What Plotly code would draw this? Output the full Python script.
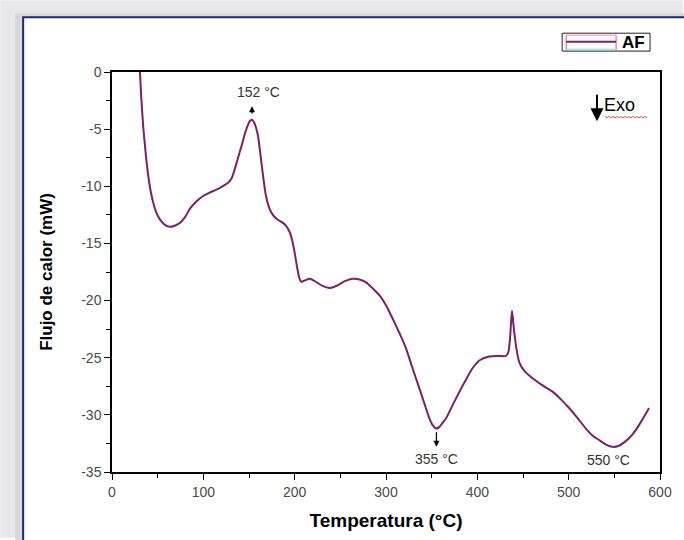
import plotly.graph_objects as go

# DSC trace of sample AF: temperature (°C) vs heat flow (mW)
temperatura = [
    30.6, 32.0, 34.2, 37.0, 39.7, 42.5, 45.0, 48.5, 52.5, 57.5, 63.4, 68.5,
    74.3, 80.0, 85.0, 92.0, 99.8, 107.0, 114.4, 121.0, 127.1, 131.0, 134.4,
    138.0, 141.7, 145.5, 149.0, 151.5, 153.3, 155.5, 157.8, 159.9, 162.5,
    165.4, 168.5, 172.7, 177.0, 182.0, 187.2, 191.0, 194.5, 197.5, 200.0,
    202.5, 205.0, 207.3, 211.0, 216.4, 222.0, 230.0, 238.3, 246.0, 255.0,
    263.7, 271.0, 278.3, 285.0, 292.9, 300.0, 307.4, 315.0, 322.0, 329.0,
    336.6, 342.0, 347.5, 351.5, 354.9, 358.5, 362.0, 365.8, 372.0, 380.3,
    387.0, 394.9, 403.0, 413.1, 422.0, 431.3, 434.0, 435.8, 437.9, 439.2,
    440.4, 443.0, 445.9, 452.0, 460.4, 471.0, 482.3, 491.0, 500.5, 510.0,
    518.8, 526.0, 533.3, 541.0, 547.9, 555.0, 562.5, 570.0, 577.0, 583.0,
    588.0,
]
flujo = [
    0.0, -2.2, -4.8, -7.2, -9.1, -10.5, -11.4, -12.3, -12.9, -13.35, -13.55,
    -13.45, -13.2, -12.7, -12.0, -11.35, -10.85, -10.55, -10.3, -10.0, -9.7,
    -9.3, -8.5, -7.5, -6.5, -5.4, -4.6, -4.25, -4.18, -4.4, -4.9, -5.6, -7.2,
    -9.1, -10.8, -12.0, -12.6, -12.95, -13.2, -13.5, -14.0, -14.8, -15.8,
    -17.0, -18.0, -18.35, -18.25, -18.1, -18.3, -18.7, -18.9, -18.7, -18.3,
    -18.1, -18.15, -18.4, -18.9, -19.55, -20.4, -21.6, -22.9, -24.2, -25.9,
    -27.7, -29.0, -30.3, -30.95, -31.2, -31.05, -30.7, -30.3, -29.3, -28.0,
    -27.0, -25.9, -25.2, -24.9, -24.85, -24.85, -24.5, -23.3, -20.9, -21.8,
    -22.75, -24.3, -25.4, -26.2, -26.8, -27.4, -27.97, -28.6, -29.4, -30.3,
    -31.2, -31.8, -32.2, -32.6, -32.8, -32.7, -32.3, -31.7, -30.9, -30.1,
    -29.4,
]

serie = "AF"
# Marked peak temperatures
picos = ["152 °C", "355 °C", "550 °C"]

x_ticks = [0, 100, 200, 300, 400, 500, 600]
y_ticks = [0, -5, -10, -15, -20, -25, -30, -35]
y_ticktext = ["0", "-5", "-10", "-15", "-20", "-25", "-30", "-35"]

W, H = 684, 540
L, R, T, B = 112, 661, 72, 474  # plot-area pixel box


def px(xp):
    return (xp - L) / (R - L)


def py(yp):
    return (B - yp) / (B - T)


FONT = "Liberation Sans, Arial, sans-serif"
CURVE = "#7b1f6c"

fig = go.Figure()
fig.add_trace(go.Scatter(
    x=temperatura, y=flujo, mode="lines", name=serie, showlegend=False,
    line=dict(color=CURVE, width=2, shape="spline", smoothing=0.6),
))


def seg(x0, y0, x1, y1, color, width):
    return dict(type="line", xref="paper", yref="paper",
                x0=px(x0), y0=py(y0), x1=px(x1), y1=py(y1),
                line=dict(color=color, width=width))


shapes = [
    # window-like frame around the chart
    dict(type="rect", xref="paper", yref="paper", x0=px(0), x1=px(W), y0=py(H), y1=py(0),
         fillcolor="#e8e8ec", line=dict(width=0), layer="below"),
    dict(type="rect", xref="paper", yref="paper", x0=px(15), x1=px(W + 5), y0=py(H + 5), y1=py(13),
         fillcolor="#d6d6dc", line=dict(width=0), layer="below"),
    dict(type="rect", xref="paper", yref="paper", x0=px(23), x1=px(W + 10), y0=py(H + 10), y1=py(17),
         fillcolor="white", line=dict(color="#1c2a6b", width=2), layer="below"),
    # legend box
    dict(type="rect", xref="paper", yref="paper", x0=px(563), x1=px(651), y0=py(51), y1=py(33),
         fillcolor="white", line=dict(color="#222", width=1)),
    seg(567, 35, 567, 50, "#e8507a", 1),
    seg(617, 35, 617, 50, "#e8507a", 1),
    seg(567, 49, 617, 49, "#7fe0e6", 1),
    seg(567, 35, 617, 35, "#f08aa8", 1),
    seg(567, 41.5, 617, 41.5, CURVE, 2),
    # spell-check squiggle under "Exo"
    dict(type="path", xref="paper", yref="paper",
         path="M " + " L ".join(
             f"{px(606 + 2 * i):.5f},{py(117 + (1.0 if i % 2 else -0.3)):.5f}" for i in range(22)
         ),
         line=dict(color="#e02020", width=0.8)),
]

annotations = [
    dict(xref="paper", yref="paper", x=px(634.5), y=py(42.5), text=f"<b>{serie}</b>",
         showarrow=False, xanchor="center", yanchor="middle",
         font=dict(family=FONT, size=17, color="black")),
    # arrows marking the peaks
    dict(x=153.3, y=-3.0, ax=0, ay=9, text="", showarrow=True, arrowhead=2,
         arrowsize=1, arrowwidth=1.2, arrowcolor="black"),
    dict(x=355.2, y=-32.8, ax=0, ay=-16, text="", showarrow=True, arrowhead=2,
         arrowsize=1, arrowwidth=1.2, arrowcolor="black"),
    dict(x=160.7, y=-1.75, text=picos[0], showarrow=False,
         font=dict(family=FONT, size=14, color="#333")),
    dict(x=355.5, y=-33.9, text=picos[1], showarrow=False,
         font=dict(family=FONT, size=14, color="#333")),
    dict(x=543.5, y=-33.95, text=picos[2], showarrow=False,
         font=dict(family=FONT, size=14, color="#333")),
    # exothermic direction
    dict(x=531.0, y=-4.3, ax=0, ay=-28, text="", showarrow=True, arrowhead=2,
         arrowsize=1.3, arrowwidth=2, arrowcolor="black"),
    dict(xref="paper", yref="paper", x=px(603), y=py(105), xanchor="left", yanchor="middle",
         text="Exo", showarrow=False, font=dict(family=FONT, size=18, color="black")),
]

axis_common = dict(
    showline=True, linecolor="black", linewidth=1.5, mirror=True,
    ticks="outside", ticklen=6, tickwidth=1.3, tickcolor="black",
    showgrid=False, zeroline=False,
    tickfont=dict(family=FONT, size=14, color="#4a4a4a"),
)

fig.update_layout(
    width=W, height=H,
    margin=dict(l=L, r=W - R, t=T, b=H - B),
    paper_bgcolor="white", plot_bgcolor="white",
    shapes=shapes, annotations=annotations,
    showlegend=False,
    xaxis=dict(
        range=[0, 600], tickvals=x_ticks,
        minor=dict(dtick=50, ticks="outside", ticklen=4, tickcolor="black"),
        title=dict(text="<b>Temperatura (°C)</b>", font=dict(family=FONT, size=19, color="black"),
                   standoff=15),
        **axis_common,
    ),
    yaxis=dict(
        range=[-35, 0], tickvals=y_ticks, ticktext=y_ticktext,
        minor=dict(dtick=2.5, ticks="outside", ticklen=4, tickcolor="black"),
        title=dict(text="<b>Flujo de calor (mW)</b>", font=dict(family=FONT, size=17, color="black"),
                   standoff=24),
        **axis_common,
    ),
)

fig.write_html("out.html")
